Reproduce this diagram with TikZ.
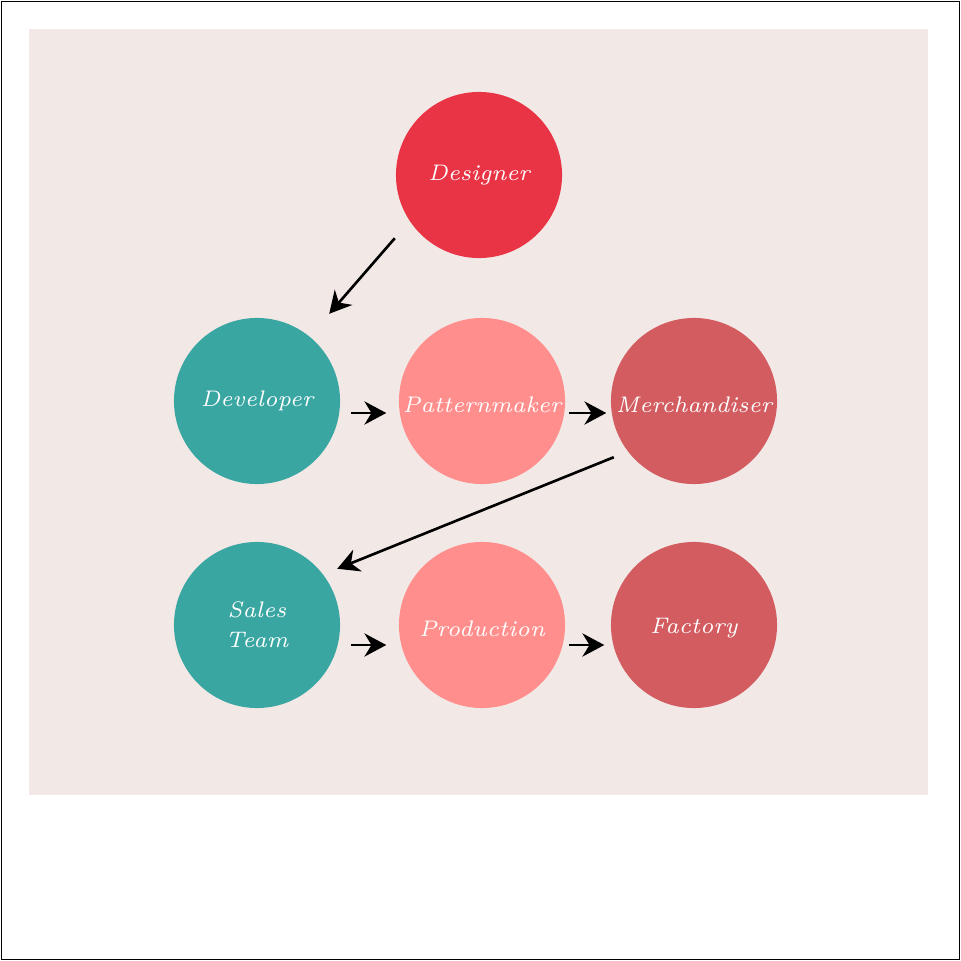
\documentclass[tikz,border=0pt]{standalone}
\usepackage{xcolor}
\usetikzlibrary{arrows.meta,positioning,calc}

\definecolor{bgpink}{HTML}{F2E9E7}
\definecolor{designred}{HTML}{E93445}
\definecolor{tealc}{HTML}{3AA6A2}
\definecolor{salmonc}{HTML}{FF8E8C}
\definecolor{rosec}{HTML}{D35C61}

\begin{document}
\begin{tikzpicture}[
  x=0.01cm, y=-0.01cm,
  font=\fontsize{6.4}{8.6}\selectfont\itshape,
  role/.style={circle,minimum size=1.66cm,inner sep=0pt},
  lbl/.style={text=white,align=center,inner sep=0pt},
  lead/.style={role,fill=designred},
  dev/.style={role,fill=tealc},
  mid/.style={role,fill=salmonc},
  back/.style={role,fill=rosec},
  arr/.style={-{Stealth[length=6.2pt,width=6.6pt,inset=2pt]},line width=0.75pt},
]
\useasboundingbox (0,0) rectangle (961,961);
\draw[line width=0.45pt] (1.5,1.5) rectangle (959.5,959.5);
\fill[bgpink] (29,29) rectangle (928,795);

\node[lead,label={[lbl]center:Designer}] (des) at (479,175) {};
\node[dev,label={[lbl]center:Developer}] (devl) at (257,401) {};
\node[mid,label={[lbl,yshift=-1pt]center:Patternmaker}] (pat) at (482,401) {};
\node[back,label={[lbl,yshift=-1pt]center:Merchandiser}] (mer) at (694,401) {};
\node[dev,label={[lbl]center:Sales\\Team}] (sal) at (257,625) {};
\node[mid,label={[lbl,yshift=-1pt]center:Production}] (pro) at (482,625) {};
\node[back,label={[lbl,yshift=-1pt]center:Factory}] (fac) at (694,625) {};

\draw[arr] ([shift={(-25,4)}]des.south west) -- ([shift={(13,-28)}]devl.north east);
\draw[arr] ([shift={(10,12)}]devl.east) -- ([shift={(-12,12)}]pat.west);
\draw[arr] ([shift={(3,12)}]pat.east) -- ([shift={(-4,12)}]mer.west);
\draw[arr] ([shift={(-21,-3)}]mer.south west) -- ([shift={(21,3)}]sal.north east);
\draw[arr] ([shift={(10,20)}]sal.east) -- ([shift={(-12,20)}]pro.west);
\draw[arr] ([shift={(3,20)}]pro.east) -- ([shift={(-6,20)}]fac.west);
\end{tikzpicture}
\end{document}
